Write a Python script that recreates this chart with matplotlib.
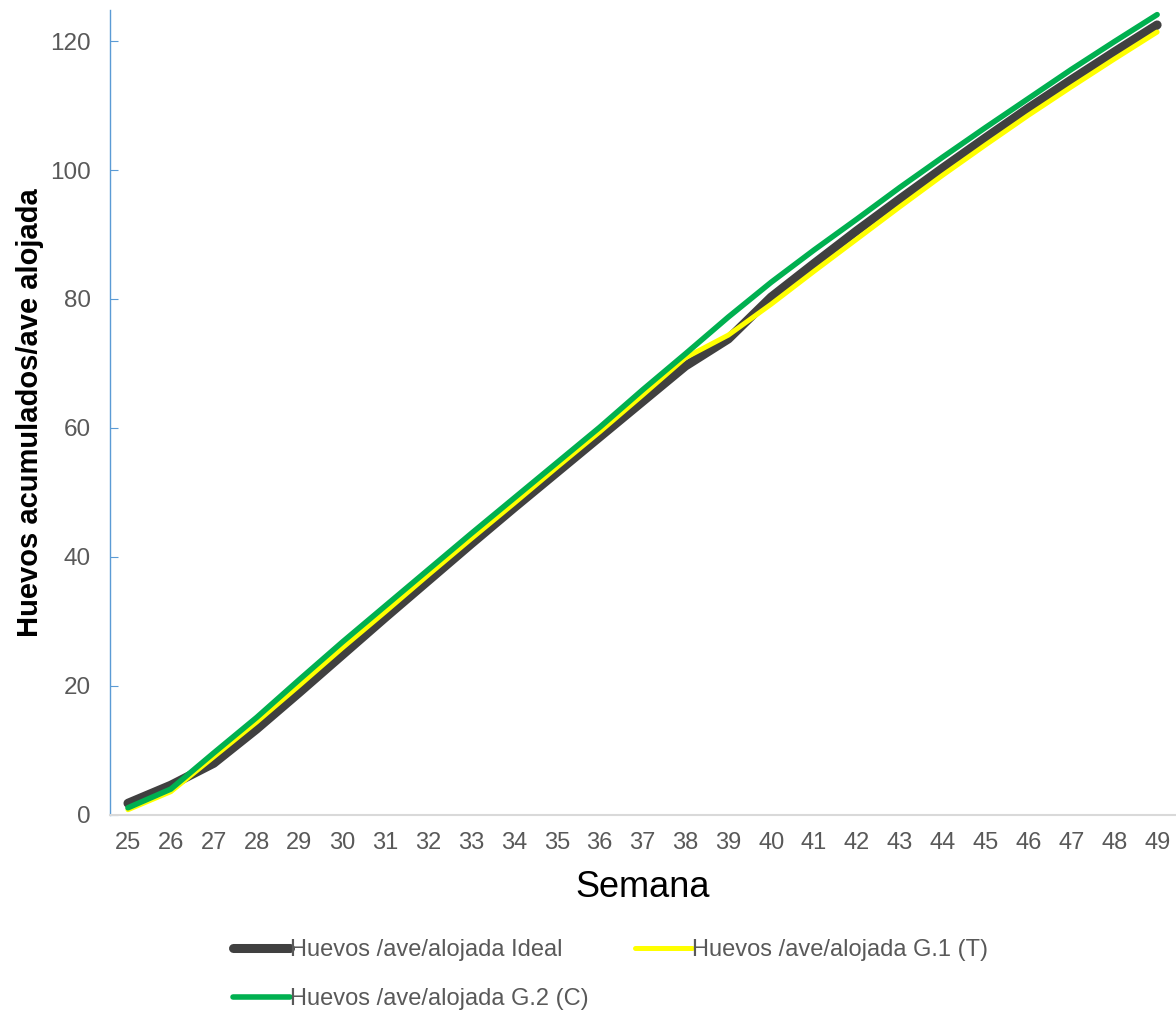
import matplotlib
matplotlib.use("Agg")
import matplotlib.pyplot as plt

plt.rcParams['font.family'] = ['Liberation Sans', 'DejaVu Sans']

# data
semanas = list(range(25, 50))
ideal = [1.8, 4.6, 8.0, 13.3, 19.0, 24.8, 30.6, 36.3, 42.0, 47.6, 53.1, 58.6, 64.1,
         69.6, 73.8, 80.3, 85.5, 90.6, 95.5, 100.3, 105.0, 109.6, 114.0, 118.3, 122.5]
g1_t = [0.8, 3.6, 9.0, 14.4, 20.1, 25.9, 31.5, 37.2, 42.8, 48.3, 53.9, 59.4, 65.1,
        70.9, 74.4, 79.2, 84.3, 89.3, 94.3, 99.2, 103.9, 108.5, 112.9, 117.2, 121.4]
g2_c = [1.1, 4.0, 9.6, 15.1, 21.0, 26.8, 32.4, 38.0, 43.6, 49.1, 54.6, 60.1, 65.9,
        71.5, 77.2, 82.6, 87.6, 92.4, 97.3, 102.0, 106.6, 111.1, 115.6, 119.9, 124.1]
etiquetas = ['Huevos /ave/alojada Ideal', 'Huevos /ave/alojada G.1 (T)',
             'Huevos /ave/alojada G.2 (C)']

fig = plt.figure(figsize=(11.76, 10.11), dpi=100)
ax = fig.add_axes([0.0935, 0.194, 0.9065, 0.796])

l_ideal, = ax.plot(semanas, ideal, color='#404040', lw=6.5, solid_capstyle='round',
                   solid_joinstyle='round', label=etiquetas[0])
l_g1, = ax.plot(semanas, g1_t, color='#FFFF00', lw=3.6, solid_capstyle='round',
                solid_joinstyle='round', label=etiquetas[1])
l_g2, = ax.plot(semanas, g2_c, color='#00B050', lw=4.0, solid_capstyle='round',
                solid_joinstyle='round', label=etiquetas[2])

ax.set_xlim(24.58, 49.44)
ax.set_ylim(0, 124.8)
ax.set_xticks(semanas)
ax.set_yticks(range(0, 121, 20))

for s in ['top', 'right']:
    ax.spines[s].set_visible(False)
ax.spines['left'].set_color('#5B9BD5')
ax.spines['left'].set_linewidth(1.0)
ax.spines['bottom'].set_color('#D9D9D9')
ax.spines['bottom'].set_linewidth(1.5)

ax.tick_params(axis='y', direction='in', length=6, color='#5B9BD5',
               labelsize=17.5, labelcolor='#595959', pad=14)
ax.tick_params(axis='x', length=0, labelsize=17, labelcolor='#595959', pad=12)

ax.set_xlabel('Semana', fontsize=26, color='#000000', labelpad=12)
ax.set_ylabel('Huevos acumulados/ave alojada', fontsize=21, fontweight='bold',
              color='#000000', labelpad=4)

# row-major order in two columns
fig.legend([l_ideal, l_g2, l_g1], [etiquetas[0], etiquetas[2], etiquetas[1]],
           ncol=2, loc='upper left', bbox_to_anchor=(0.188, 0.083),
           frameon=False, fontsize=17, handlelength=2.4, handletextpad=0.0,
           columnspacing=2.0, labelspacing=1.15, borderpad=0, labelcolor='#595959')

fig.savefig('out.png', dpi=100)
